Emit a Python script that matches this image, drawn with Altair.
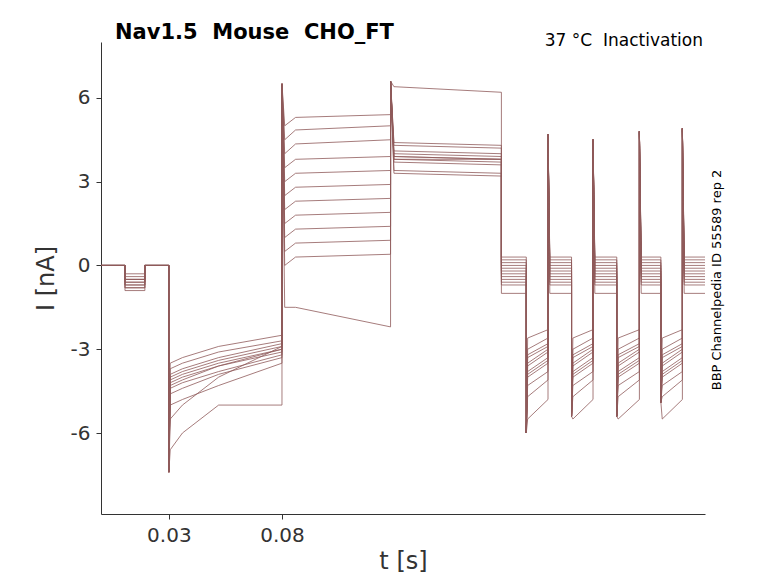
import pandas as pd
import altair as alt

# per-trace levels (nA), 12 sweeps
dip = [-0.3, -0.4, -0.5, -0.5, -0.6, -0.6, -0.7, -0.7, -0.8, -0.8, -0.9, -0.5]
b_start = [-3.5, -3.7, -3.9, -4.0, -4.1, -4.2, -4.4, -4.6, -5.0, -5.5, -6.6, -4.3]
b_quick = [-3.3, -3.5, -3.7, -3.8, -3.9, -4.0, -4.2, -4.4, -4.8, -5.0, -6.0, -4.1]
b_mid = [-2.9, -3.1, -3.3, -3.4, -3.5, -3.6, -3.8, -3.9, -4.3, -4.0, -5.0, -3.6]
b_end = [-2.5, -2.7, -2.8, -2.9, -3.0, -3.1, -3.2, -3.3, -3.5, -2.9, -5.0, -3.0]
c_start = [5.0, 4.5, 4.0, 3.5, 3.0, 2.5, 2.0, 1.5, 1.0, 0.5, -1.5, 0.0]
c_quick = [5.3, 4.85, 4.35, 3.8, 3.3, 2.8, 2.3, 1.8, 1.3, 0.8, -1.5, 0.3]
c_end = [5.4, 5.0, 4.5, 3.9, 3.4, 2.9, 2.4, 1.9, 1.4, 0.9, -2.2, 0.4]
d_start = [6.4, 4.4, 4.3, 4.1, 4.0, 3.9, 3.8, 3.8, 3.7, 3.3, 3.4, 3.9]
d_end = [6.2, 4.3, 4.2, 4.0, 3.9, 3.8, 3.8, 3.7, 3.6, 3.2, 3.3, 3.8]
e_high = [0.3, 0.2, 0.1, 0.0, -0.1, -0.2, -0.3, -0.4, -0.5, -0.7, -1.0, -0.6]
e_low_start = [-2.6, -3.0, -3.2, -3.3, -3.5, -3.6, -3.8, -4.0, -4.3, -4.7, -5.5, -3.9]
e_low_end = [-2.3, -2.6, -2.8, -2.9, -3.0, -3.1, -3.3, -3.5, -3.8, -4.1, -4.8, -3.4]

# step times (s)
t_dip = [0.0106, 0.0194]
t_b, t_c, t_d, t_e = 0.03, 0.08, 0.128, 0.177
t_low = [0.188, 0.208, 0.228, 0.2475]
t_high = [0.1976, 0.2175, 0.238, 0.257]
t_end = 0.267
up_peaks = [4.7, 4.5, 4.8, 4.9]
down_peaks = [-6.0, -5.4, -5.4, -4.9]

rows = []
for k in range(len(dip)):
    pts = [(0.0, 0.0), (t_dip[0], 0.0), (t_dip[0], dip[k]), (t_dip[1], dip[k]),
           (t_dip[1], 0.0), (t_b, 0.0), (t_b, -7.4), (t_b + 0.0006, b_start[k]),
           (0.036, b_quick[k]), (0.052, b_mid[k]), (t_c, b_end[k]), (t_c, 6.5),
           (t_c + 0.0012, c_start[k]), (0.086, c_quick[k]), (t_d, c_end[k]),
           (t_d, 6.6), (t_d + 0.0015, d_start[k]), (t_e, d_end[k]), (t_e, e_high[k])]
    for i in range(4):
        pts += [(t_low[i], e_high[k]), (t_low[i], down_peaks[i]),
                (t_low[i] + 0.0006, e_low_start[k]), (t_high[i], e_low_end[k]),
                (t_high[i], up_peaks[i]), (t_high[i] + 0.0008, e_high[k])]
    pts.append((t_end, e_high[k]))
    for j, (t, v) in enumerate(pts):
        rows.append({"trace": k, "t": t, "I": v, "order": j})
df = pd.DataFrame(rows)

lines = alt.Chart(df).mark_line(color="#8f5a5a", strokeWidth=0.8, clip=True).encode(
    x=alt.X("t:Q", scale=alt.Scale(domain=[0, 0.267], nice=False),
            axis=alt.Axis(values=[0.03, 0.08], format=".2f", title="t [s]")),
    y=alt.Y("I:Q", scale=alt.Scale(domain=[-8.9, 8], nice=False),
            axis=alt.Axis(values=[-6, -3, 0, 3, 6], title="I [nA]",
                          labelExpr="replace(datum.label, '\u2212', '-')")),
    detail="trace:N",
    order="order:Q",
)

base = alt.Chart(pd.DataFrame({"a": [0]}))
title = base.mark_text(text="Nav1.5\u00a0\u00a0Mouse\u00a0\u00a0CHO_FT", fontSize=21,
                       fontWeight="bold", align="left",
                       font="DejaVu Sans").encode(x=alt.value(14), y=alt.value(-9))
cond = base.mark_text(text="37 °C\u00a0\u00a0Inactivation", fontSize=17, align="right",
                      font="DejaVu Sans").encode(x=alt.value(602), y=alt.value(-1))
side = base.mark_text(text="BBP Channelpedia ID 55589 rep 2", fontSize=13, angle=270,
                      font="DejaVu Sans").encode(x=alt.value(616), y=alt.value(238))

chart = (lines + title + cond + side).properties(
    width=604, height=472, autosize="none",
    padding={"left": 93, "top": 34, "right": 60, "bottom": 60},
).configure_view(stroke=None).configure_axis(
    grid=False, labelFontSize=20, titleFontSize=24, labelFont="DejaVu Sans",
    titleFont="DejaVu Sans", titleFontWeight="normal", domainColor="#333",
    tickColor="#333", labelColor="#333", titleColor="#333",
).configure_axisX(labelPadding=6).configure_axisY(titlePadding=12, labelPadding=6)

chart.save("out.html", embed_options={"renderer": "svg", "actions": False})
